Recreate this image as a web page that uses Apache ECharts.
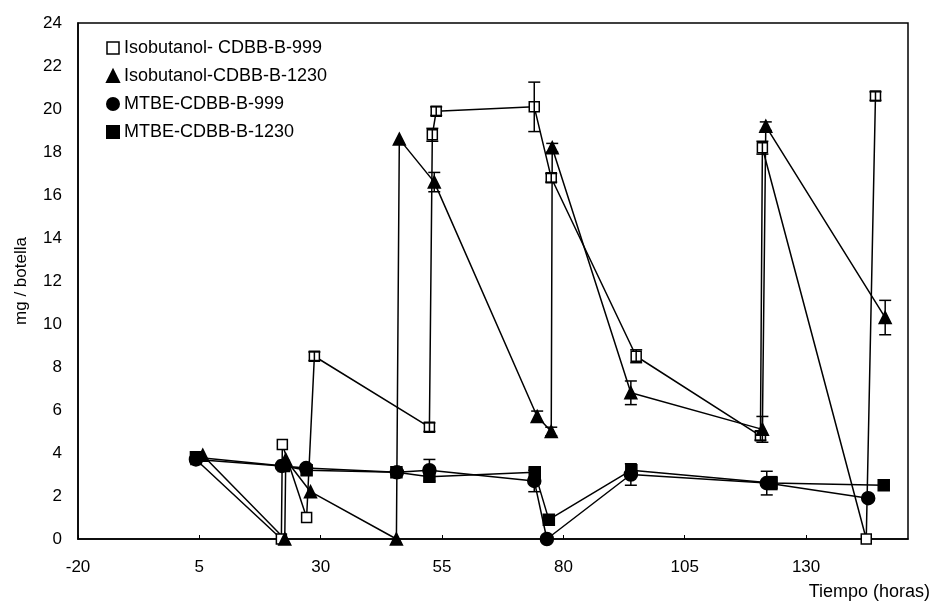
<!DOCTYPE html>
<html>
<head>
<meta charset="utf-8">
<script src="https://cdn.jsdelivr.net/npm/echarts@6/dist/echarts.min.js"></script>
<style>
  html, body { margin: 0; padding: 0; background: #fff; }
  #chart { width: 933px; height: 604px; }
</style>
</head>
<body>
<div id="chart"></div>
<script>
// Series names shown in the legend
const seriesNames = [
  'Isobutanol- CDBB-B-999',
  'Isobutanol-CDBB-B-1230',
  'MTBE-CDBB-B-999',
  'MTBE-CDBB-B-1230'
];

// [tiempo (horas), mg / botella]
const isoB999 = [[4.3,3.7],[21.9,0],[22.1,4.4],[27.1,1.0],[28.7,8.5],[52.4,5.2],[53.0,18.8],[53.8,19.9],[74.0,20.1],[77.5,16.8],[95.0,8.5],[120.6,4.8],[121.0,18.2],[142.4,0],[144.3,20.6]];
const isoB1230 = [[5.7,3.9],[22.6,0],[22.8,3.7],[27.9,2.2],[45.6,0],[46.2,18.6],[53.4,16.6],[74.6,5.7],[77.5,5.0],[77.7,18.2],[93.9,6.8],[121.0,5.1],[121.7,19.2],[146.3,10.3]];
const mtbeB999 = [[4.3,3.7],[22.0,3.4],[27.0,3.3],[45.7,3.1],[52.4,3.2],[74.0,2.7],[76.6,0],[93.9,3.0],[121.9,2.6],[142.8,1.9]];
const mtbeB1230 = [[4.3,3.8],[22.4,3.4],[27.1,3.2],[45.6,3.1],[52.4,2.9],[74.1,3.1],[77.0,0.9],[94.0,3.2],[122.9,2.6],[146.0,2.5]];

// Standard deviation (+/-) for each point, same order as the data above
const isoB999Err = [0,0,0,0,0.2,0.2,0.3,0.2,1.15,0.2,0.3,0.2,0.3,0,0.2];
const isoB1230Err = [0,0,0,0,0,0,0.45,0.25,0.2,0.2,0.55,0.6,0.2,0.8];
const mtbeB999Err = [0,0,0,0,0.5,0.5,0,0.5,0.55,0];
const mtbeB1230Err = [0,0,0,0,0,0.2,0,0,0.3,0];

// Axis ticks
const xTicks = { min: -20, max: 151, interval: 25 };
const yTicks = { min: 0, max: 24, interval: 2 };

const FONT = 'Liberation Sans, Arial, sans-serif';
const INK = '#000';

const chart = echarts.init(document.getElementById('chart'), null, { renderer: 'canvas' });

function errorData(values, errs) {
  const out = [];
  values.forEach((p, i) => { if (errs[i] > 0) out.push([p[0], p[1], errs[i]]); });
  return out;
}

function errorSeries(values, errs) {
  return {
    type: 'custom',
    silent: true,
    z: 5,
    data: errorData(values, errs),
    renderItem: function (params, api) {
      const x = api.value(0), y = api.value(1), e = api.value(2);
      const top = api.coord([x, y + e]);
      const bot = api.coord([x, y - e]);
      const w = 6;
      const st = { stroke: INK, lineWidth: 1.5 };
      return {
        type: 'group',
        children: [
          { type: 'line', shape: { x1: top[0], y1: top[1], x2: bot[0], y2: bot[1] }, style: st },
          { type: 'line', shape: { x1: top[0] - w, y1: top[1], x2: top[0] + w, y2: top[1] }, style: st },
          { type: 'line', shape: { x1: bot[0] - w, y1: bot[1], x2: bot[0] + w, y2: bot[1] }, style: st }
        ]
      };
    }
  };
}

function lineSeries(name, data, symbol, size, fill) {
  return {
    name: name,
    type: 'line',
    data: data,
    symbol: symbol,
    symbolSize: size,
    clip: false,
    z: 3,
    lineStyle: { color: INK, width: 1.5 },
    itemStyle: { color: fill, borderColor: INK, borderWidth: 1.5 },
    emphasis: { disabled: true }
  };
}

const option = {
  backgroundColor: '#fff',
  animation: false,
  textStyle: { fontFamily: FONT, color: INK },
  grid: {
    left: 78, right: 24, top: 23, bottom: 65,
    show: true, borderColor: INK, borderWidth: 1.5, backgroundColor: 'transparent'
  },
  legend: {
    orient: 'vertical',
    left: 101, top: 34,
    itemGap: 10,
    itemWidth: 12, itemHeight: 12,
    textStyle: { fontFamily: FONT, fontSize: 18, color: INK },
    data: [
      { name: seriesNames[0], icon: 'rect', itemStyle: { color: '#fff', borderColor: INK, borderWidth: 1.5 } },
      { name: seriesNames[1], icon: 'triangle', itemStyle: { color: INK } },
      { name: seriesNames[2], icon: 'circle', itemStyle: { color: INK } },
      { name: seriesNames[3], icon: 'rect', itemStyle: { color: INK } }
    ]
  },
  xAxis: {
    type: 'value',
    min: xTicks.min, max: xTicks.max, interval: xTicks.interval,
    name: 'Tiempo (horas)',
    nameLocation: 'end',
    nameGap: 0,
    nameTextStyle: { fontFamily: FONT, fontSize: 18, color: INK, align: 'right', verticalAlign: 'top', padding: [44, -22, 0, 0] },
    axisLine: { show: true, onZero: false, lineStyle: { color: INK, width: 1.5 } },
    axisTick: { show: true, inside: true, length: 4, lineStyle: { color: INK } },
    axisLabel: { fontFamily: FONT, fontSize: 17, color: INK, margin: 20, showMaxLabel: false },
    splitLine: { show: false }
  },
  yAxis: {
    type: 'value',
    min: yTicks.min, max: yTicks.max, interval: yTicks.interval,
    name: 'mg / botella',
    nameLocation: 'middle',
    nameGap: 48,
    nameRotate: 90,
    nameTextStyle: { fontFamily: FONT, fontSize: 17, color: INK },
    axisLine: { show: true, onZero: false, lineStyle: { color: INK, width: 1.5 } },
    axisTick: { show: false },
    axisLabel: { fontFamily: FONT, fontSize: 17, color: INK, margin: 16 },
    splitLine: { show: false }
  },
  series: [
    lineSeries(seriesNames[0], isoB999, 'rect', 10, '#fff'),
    lineSeries(seriesNames[1], isoB1230, 'triangle', 12, INK),
    lineSeries(seriesNames[2], mtbeB999, 'circle', 13, INK),
    lineSeries(seriesNames[3], mtbeB1230, 'rect', 11, INK),
    errorSeries(isoB999, isoB999Err),
    errorSeries(isoB1230, isoB1230Err),
    errorSeries(mtbeB999, mtbeB999Err),
    errorSeries(mtbeB1230, mtbeB1230Err)
  ]
};

chart.setOption(option);
</script>
</body>
</html>
